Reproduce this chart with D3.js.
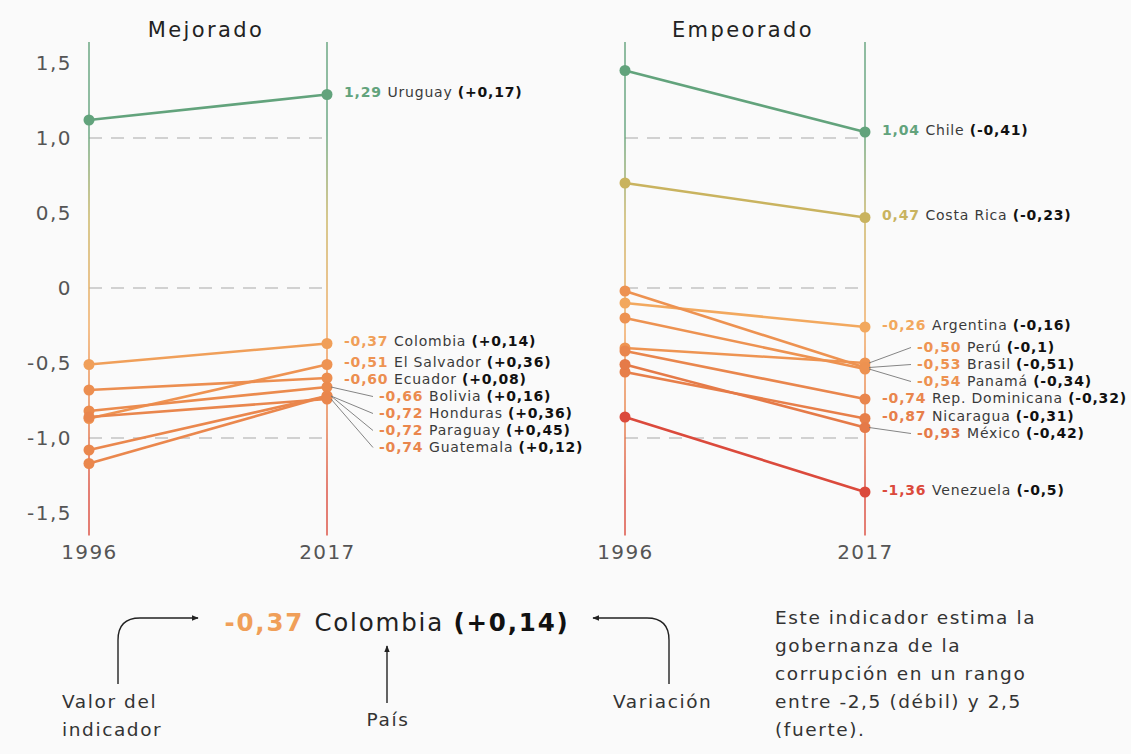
<!DOCTYPE html>
<html><head><meta charset="utf-8">
<script src="https://cdn.jsdelivr.net/npm/d3@7"></script>
<style>
body{margin:0;background:#fafafa;}
svg{display:block;font-family:"DejaVu Sans",sans-serif;}
</style>
</head><body><svg id="c" width="1131" height="754"></svg>
<script>
// ---------- DATA ----------
const years = ["1996", "2017"];
const panelTitles = ["Mejorado", "Empeorado"];
const mejCountries = ["Uruguay","Colombia","El Salvador","Ecuador","Bolivia","Honduras","Paraguay","Guatemala"];
const mej1996 = [1.12, -0.51, -0.87, -0.68, -0.82, -1.08, -1.17, -0.86];
const mej2017 = [1.29, -0.37, -0.51, -0.60, -0.66, -0.72, -0.72, -0.74];
const mejVar  = [0.17, 0.14, 0.36, 0.08, 0.16, 0.36, 0.45, 0.12];
const empCountries = ["Chile","Costa Rica","Argentina","Perú","Brasil","Panamá","Rep. Dominicana","Nicaragua","México","Venezuela"];
const emp1996 = [1.45, 0.70, -0.10, -0.40, -0.02, -0.20, -0.42, -0.56, -0.51, -0.86];
const emp2017 = [1.04, 0.47, -0.26, -0.50, -0.53, -0.54, -0.74, -0.87, -0.93, -1.36];
const empVar  = [-0.41, -0.23, -0.16, -0.1, -0.51, -0.34, -0.32, -0.31, -0.42, -0.5];
const yTicks = [1.5, 1.0, 0.5, 0, -0.5, -1.0, -1.5];
const gridTicks = [1.0, 0, -1.0];
const example = {value: -0.37, country: "Colombia", variation: 0.14};
const noteLines = ["Este indicador estima la","gobernanza de la","corrupción en un rango","entre -2,5 (débil) y 2,5","(fuerte)."];

// ---------- HELPERS ----------
const fixMinus = s => s.replace(/\u2212/g, "-");
const fmtTick = v => v === 0 ? "0" : fixMinus(d3.format(".1f")(v)).replace(".", ",");
const fmtVal = v => fixMinus(d3.format(".2f")(v)).replace(".", ",");
const fmtVar = v => "(" + fixMinus(d3.format("+.2~f")(v)).replace(".", ",") + ")";

const svg = d3.select("#c");
svg.append("rect").attr("width", 1131).attr("height", 754).attr("fill", "#fafafa");

const y = d3.scaleLinear().domain([-1.65, 1.64]).range([535.5, 42]);
const color = d3.scaleLinear()
  .domain([-1.36, -0.9, -0.5, -0.26, 0.47, 1.04])
  .range(["#db4a3c", "#e67d49", "#ee9452", "#f2a85e", "#c9b35f", "#62a37c"])
  .clamp(true);

const defs = svg.append("defs");
const grad = defs.append("linearGradient").attr("id", "axg")
  .attr("gradientUnits", "userSpaceOnUse")
  .attr("x1", 0).attr("x2", 0).attr("y1", y(1.64)).attr("y2", y(-1.65));
d3.range(1.64, -1.66, -0.1).forEach(v => {
  grad.append("stop").attr("offset", (y(v) - y(1.64)) / (y(-1.65) - y(1.64)))
    .attr("stop-color", color(v));
});
defs.append("marker").attr("id", "ah").attr("viewBox", "0 0 10 10")
  .attr("refX", 9).attr("refY", 5).attr("markerWidth", 7).attr("markerHeight", 7)
  .attr("orient", "auto").attr("markerUnits", "userSpaceOnUse")
  .append("path").attr("d", "M0,1 L10,5 L0,9 z").attr("fill", "#222");

const panels = [
  {title: panelTitles[0], range: [89, 327], countries: mejCountries, a: mej1996, b: mej2017, v: mejVar, axis: true},
  {title: panelTitles[1], range: [625, 865], countries: empCountries, a: emp1996, b: emp2017, v: empVar, axis: false}
];

const S = 17; // label spacing
function layoutLabels(items) {
  items.sort((p, q) => p.dy - q.dy);
  let groups = [], cur = [items[0]];
  for (let i = 1; i < items.length; i++) {
    if (items[i].dy - items[i - 1].dy < 8) cur.push(items[i]);
    else { groups.push(cur); cur = [items[i]]; }
  }
  groups.push(cur);
  groups.forEach(g => {
    const m = d3.mean(g, d => d.dy);
    g.forEach((d, i) => { d.ly = m + (i - (g.length - 1) / 2) * S; d.grouped = g.length > 1; });
  });
  for (let i = 1; i < items.length; i++) items[i].ly = Math.max(items[i].ly, items[i - 1].ly + S);
  items.forEach(d => d.indent = d.grouped || Math.abs(d.ly - d.dy) > 5);
  return items;
}

panels.forEach(P => {
  const x = d3.scalePoint().domain(years).range(P.range);
  const g = svg.append("g");
  const [x0, x1] = P.range;

  g.selectAll(".grid").data(gridTicks).join("line")
    .attr("x1", x0).attr("x2", x1).attr("y1", d => y(d)).attr("y2", d => y(d))
    .attr("stroke", "#c4c4c4").attr("stroke-width", 1.3).attr("stroke-dasharray", "13,9");

  g.selectAll(".vax").data(years).join("line")
    .attr("x1", d => x(d)).attr("x2", d => x(d)).attr("y1", y(1.64)).attr("y2", y(-1.65))
    .attr("stroke", "url(#axg)").attr("stroke-width", 2).attr("opacity", 0.7);

  if (P.axis) {
    const ax = g.append("g").attr("transform", `translate(${x0},0)`)
      .call(d3.axisLeft(y).tickValues(yTicks).tickSize(0).tickPadding(17).tickFormat(fmtTick));
    ax.select(".domain").remove();
    ax.selectAll("text").attr("font-size", 20).attr("fill", "#555")
      .attr("font-family", "DejaVu Sans").attr("letter-spacing", 1.5);
  }
  const xa = g.append("g").attr("transform", "translate(0,535)")
    .call(d3.axisBottom(x).tickSize(0).tickPadding(10));
  xa.select(".domain").remove();
  xa.selectAll("text").attr("font-size", 20).attr("fill", "#555")
    .attr("font-family", "DejaVu Sans").attr("letter-spacing", 1.4);

  g.append("text").attr("x", (x0 + x1) / 2 - 2).attr("y", 37).attr("text-anchor", "middle")
    .attr("font-size", 21).attr("letter-spacing", 2.4).attr("fill", "#222").text(P.title);

  const rows = P.countries.map((c, i) => ({c, a: P.a[i], b: P.b[i], v: P.v[i], dy: y(P.b[i])}));

  g.selectAll(".ln").data(rows).join("line")
    .attr("x1", x(years[0])).attr("x2", x(years[1]))
    .attr("y1", d => y(d.a)).attr("y2", d => y(d.b))
    .attr("stroke", d => color(d.b)).attr("stroke-width", 2.6);
  rows.forEach(d => {
    [[years[0], d.a], [years[1], d.b]].forEach(([yr, v]) => {
      g.append("circle").attr("cx", x(yr)).attr("cy", y(v)).attr("r", 5.5).attr("fill", color(d.b));
    });
  });

  const L = layoutLabels(rows.slice());
  const xe = x(years[1]);
  L.forEach(d => {
    const tx = xe + (d.indent ? 52 : 17);
    const ty = d.ly - 2;
    if (d.indent) {
      g.append("line").attr("x1", xe + 4).attr("y1", d.dy).attr("x2", tx - 6).attr("y2", ty)
        .attr("stroke", "#777").attr("stroke-width", 0.9);
    }
    const t = g.append("text").attr("x", tx).attr("y", ty).attr("dy", "0.35em")
      .attr("font-size", 14).attr("letter-spacing", 0.8);
    t.append("tspan").attr("fill", color(d.b)).attr("font-weight", 700).text(fmtVal(d.b) + " ");
    t.append("tspan").attr("fill", "#3a3a3a").text(d.c + " ");
    t.append("tspan").attr("fill", "#111").attr("font-weight", 700).text(fmtVar(d.v));
  });
});

// ---------- bottom annotation ----------
const ann = svg.append("g");
const big = ann.append("text").attr("x", 397).attr("y", 622).attr("dy", "0.35em")
  .attr("text-anchor", "middle").attr("font-size", 24.5).attr("letter-spacing", 1.8);
big.append("tspan").attr("fill", color(example.value)).attr("font-weight", 700).text(fmtVal(example.value) + " ");
big.append("tspan").attr("fill", "#222").text(example.country + " ");
big.append("tspan").attr("fill", "#111").attr("font-weight", 700).text(fmtVar(example.variation));

const arrowStyle = p => p.attr("fill", "none").attr("stroke", "#222").attr("stroke-width", 1.4).attr("marker-end", "url(#ah)");
ann.append("path").attr("d", "M118,684 L118,640 Q118,618 140,618 L198,618").call(arrowStyle);
ann.append("path").attr("d", "M387,703 L387,646").call(arrowStyle);
ann.append("path").attr("d", "M669,684 L669,640 Q669,618 647,618 L593,618").call(arrowStyle);

const small = (x, yy, s, anchor) => ann.append("text").attr("x", x).attr("y", yy).attr("dy", "0.35em")
  .attr("text-anchor", anchor || "start").attr("font-size", 18.5).attr("letter-spacing", 1.6)
  .attr("fill", "#333").text(s);
small(62, 702, "Valor del");
small(62, 730, "indicador");
small(388, 720, "País", "middle");
small(613, 702, "Variación");
noteLines.forEach((s, i) => small(775, 618 + 28 * i, s));
</script>
</body></html>
